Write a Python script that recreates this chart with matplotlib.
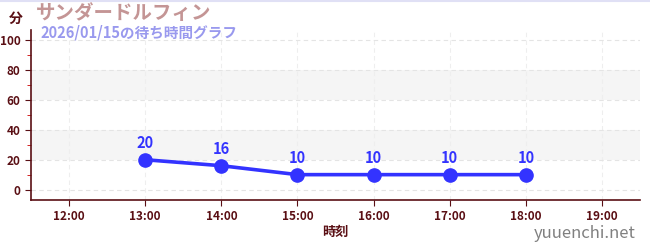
import numpy as np
import matplotlib
matplotlib.use("Agg")
import matplotlib.pyplot as plt

plt.rcParams['font.family'] = ['Noto Sans CJK JP', 'DejaVu Sans']

# data
hours = [13, 14, 15, 16, 17, 18]
waits = [20, 16, 10, 10, 10, 10]
xticks = [12, 13, 14, 15, 16, 17, 18, 19]
xlabels = ["%d:00" % h for h in xticks]
yticks = [0, 20, 40, 60, 80, 100]

title = "サンダードルフィン"
subtitle = "2026/01/15の待ち時間グラフ"

axis_col = '#5a0f14'
line_col = '#3333ff'

fig = plt.figure(figsize=(6.5, 2.5), dpi=100)
ax = fig.add_axes([0.0477, 0.2, 0.937, 0.68])

# shaded bands
for lo in (20, 60):
    ax.axhspan(lo, lo + 20, color='#f5f5f5', zorder=0, lw=0)

ax.plot(hours, waits, color=line_col, lw=2.6, marker='o', ms=9.5, zorder=3)
for h, w in zip(hours, waits):
    ax.annotate(str(w), (h, w), xytext=(0, 6), textcoords='offset points',
                ha='center', va='bottom', color=line_col, fontsize=10.5, fontweight='bold')

ax.set_xlim(11.5, 19.5)
ax.set_ylim(-7, 107)
ax.set_xticks(xticks)
ax.set_xticklabels(xlabels)
ax.set_yticks(yticks)
ax.set_yticks([10, 30, 50, 70, 90], minor=True)

ax.grid(True, axis='y', which='major', color='#e4e4e4', ls=(0, (4, 3)), lw=0.8)
ax.grid(True, axis='x', which='major', color='#eeeeee', ls=(0, (4, 3)), lw=0.8)
ax.set_axisbelow(True)

for s in ('top', 'right'):
    ax.spines[s].set_visible(False)
for s in ('left', 'bottom'):
    ax.spines[s].set_color(axis_col)
    ax.spines[s].set_linewidth(1.2)

ax.tick_params(axis='both', which='major', colors=axis_col, labelsize=8.5, length=4)
ax.tick_params(axis='y', which='minor', colors='#cc0000', length=3)
for lab in ax.get_xticklabels() + ax.get_yticklabels():
    lab.set_fontweight('bold')

ax.set_xlabel("時刻", color=axis_col, fontsize=9.5, fontweight='bold', labelpad=1)

fig.text(0.013, 0.925, "分", color=axis_col, fontsize=10, fontweight='bold', va='center')
fig.text(0.055, 0.945, title, color='#c49595', fontsize=14, fontweight='bold', va='center')
fig.text(0.062, 0.868, subtitle, color='#9999ee', fontsize=10.5, fontweight='bold', va='center')
fig.text(0.978, 0.065, "yuuenchi.net", color='#808080', fontsize=12, ha='right', va='center')

fig.add_artist(plt.Line2D([0, 1], [0.998, 0.998], color='#e0e0f5', lw=1.5))

fig.savefig("out.png", dpi=100)
